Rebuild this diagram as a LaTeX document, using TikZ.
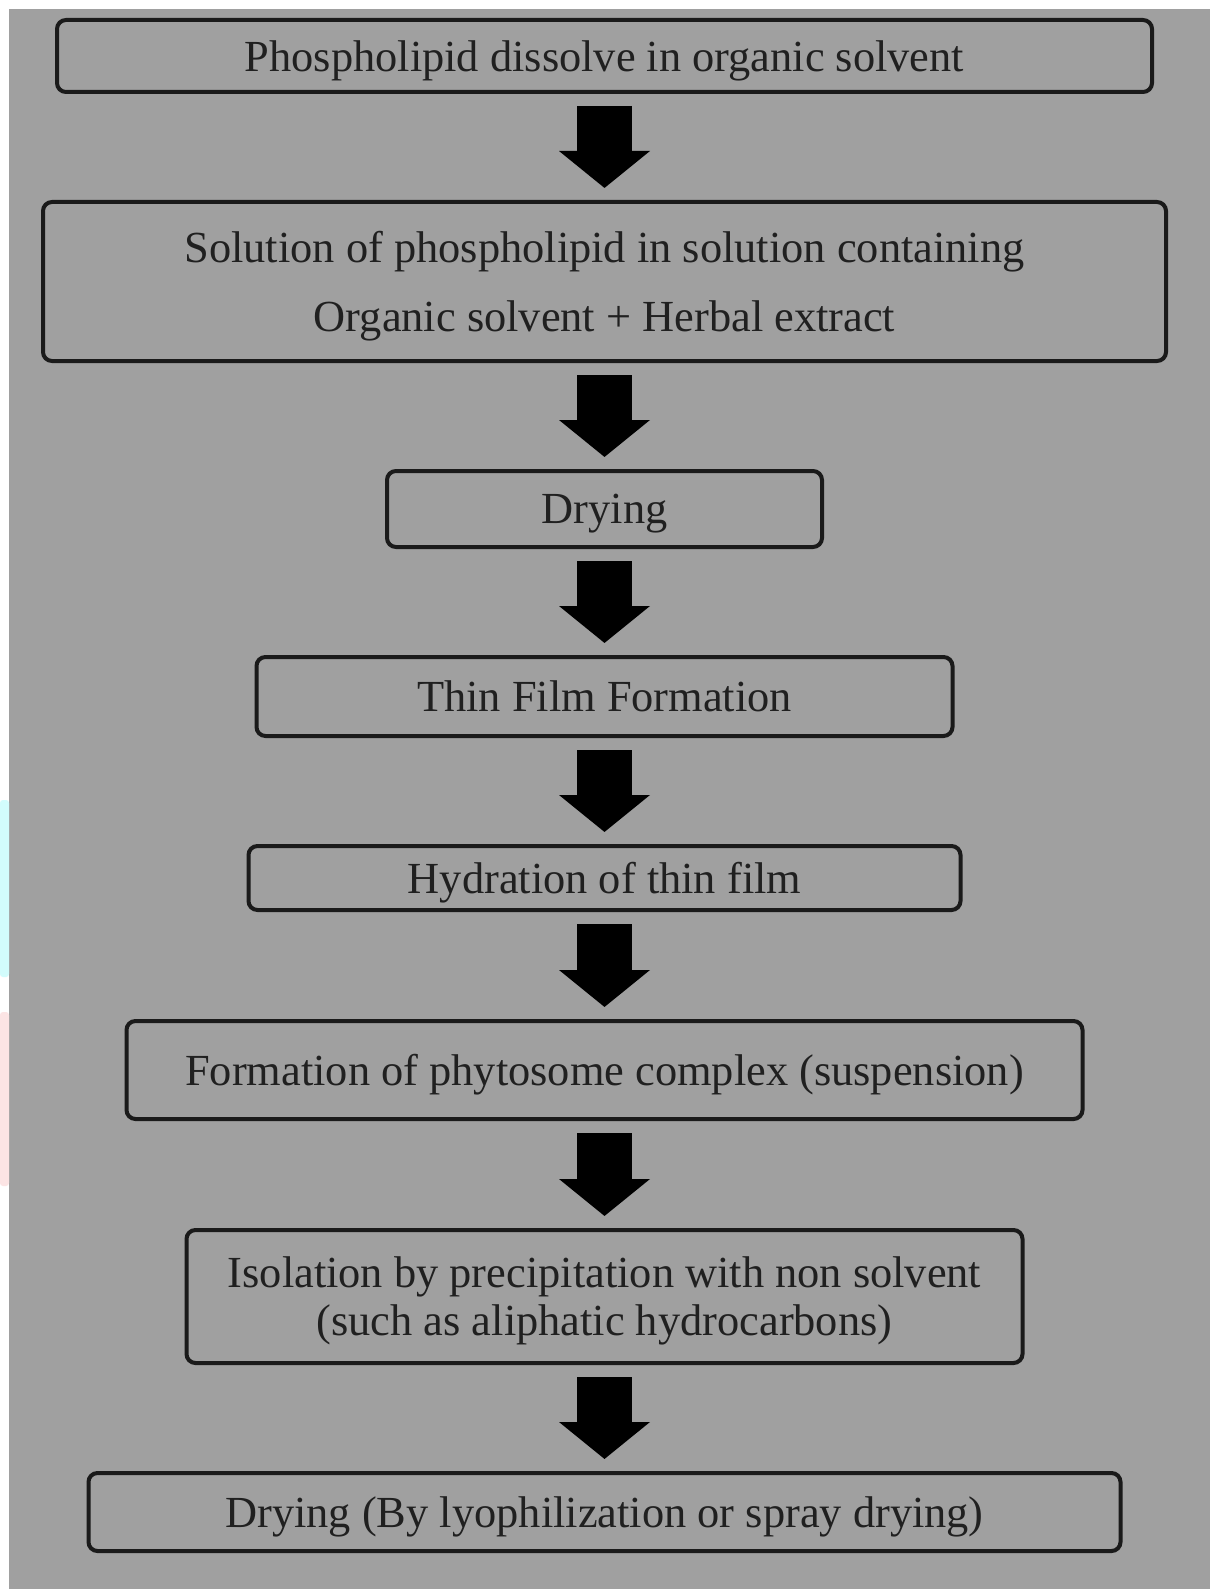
\documentclass[tikz,border=0pt]{standalone}
\usepackage{fontspec}
\setmainfont{Liberation Serif}
\usetikzlibrary{arrows.meta}
\definecolor{bggray}{HTML}{A0A0A0}
\definecolor{linecol}{HTML}{1A1A1A}
\definecolor{txtcol}{HTML}{202020}
\definecolor{edgecyan}{HTML}{D2FCFC}
\definecolor{edgepink}{HTML}{FCE4E4}
\begin{document}
\begin{tikzpicture}[x=1pt,y=-1pt,
  basebox/.style={draw=linecol, line width=4pt, rounded corners=9pt, rectangle,
    inner sep=0pt, align=center, text=txtcol,
    font=\fontsize{44.4}{69}\selectfont},
  stepbox/.style={basebox, text depth=0pt},
  twobox/.style={basebox},
  flowarrow/.style={draw=black, line width=55pt,
    -{Triangle[length=37pt 0 0, width=89pt 0 0]},
    shorten <=12pt, shorten >=12pt}]
\useasboundingbox (0,0) rectangle (1210,1589);
\fill[white] (0,0) rectangle (1210,1589);
\fill[bggray] (9,9) rectangle (1210,1589);
\fill[edgecyan, rounded corners=3pt] (0,800) rectangle (9,977);
\fill[edgepink, rounded corners=3pt] (0,1012) rectangle (9,1186);

\node[stepbox, minimum width=1095pt, minimum height=72pt] (b1) at (604.5,56)
  {Phospholipid dissolve in organic solvent};
\node[twobox, minimum width=1123pt, minimum height=159pt] (b2) at (604.5,281.5)
  {\rule{0pt}{40pt}Solution of phospholipid in solution containing\\Organic solvent + Herbal extract};
\node[stepbox, minimum width=435pt, minimum height=76pt] (b3) at (604.5,509)
  {Drying};
\node[stepbox, minimum width=696pt, minimum height=79pt] (b4) at (604.5,696.5)
  {Thin Film Formation};
\node[stepbox, minimum width=712pt, minimum height=64pt] (b5) at (604.5,878)
  {Hydration of thin film};
\node[stepbox, minimum width=956pt, minimum height=98pt] (b6) at (604.5,1070)
  {Formation of phytosome complex (suspension)};
\node[twobox, minimum width=836pt, minimum height=133pt,
  font=\fontsize{44.4}{48}\selectfont] (b7) at (604.5,1296.5)
  {\rule{0pt}{40pt}Isolation by precipitation with non solvent\\(such as aliphatic hydrocarbons)};
\node[stepbox, minimum width=1032pt, minimum height=78pt] (b8) at (604.5,1512)
  {Drying (By lyophilization or spray drying)};

\draw[flowarrow] (b1.south) -- (b2.north);
\draw[flowarrow] (b2.south) -- (b3.north);
\draw[flowarrow] (b3.south) -- (b4.north);
\draw[flowarrow] (b4.south) -- (b5.north);
\draw[flowarrow] (b5.south) -- (b6.north);
\draw[flowarrow] (b6.south) -- (b7.north);
\draw[flowarrow] (b7.south) -- (b8.north);
\end{tikzpicture}
\end{document}
